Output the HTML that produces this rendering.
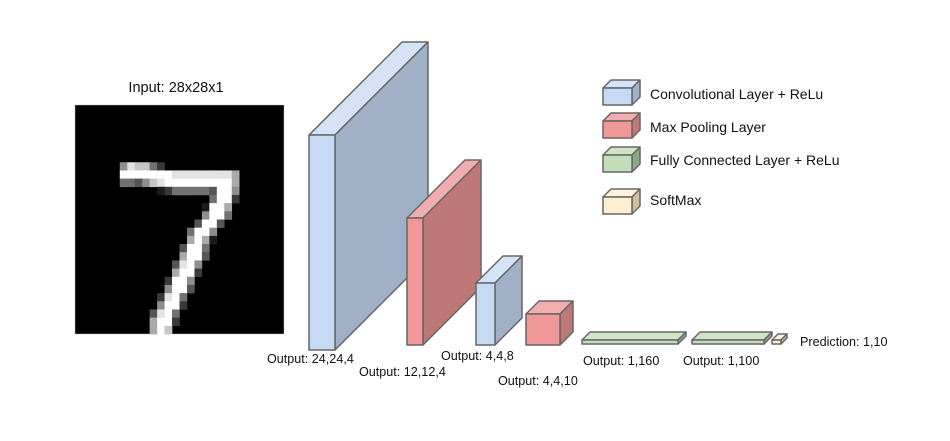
<!DOCTYPE html>
<html><head><meta charset="utf-8"><style>
html,body{margin:0;padding:0;background:#fff;}
svg{display:block;font-family:"Liberation Sans",Arial,sans-serif;}
text{fill:#111;}
</style></head><body>
<svg id="diag" width="950" height="441" viewBox="0 0 950 441">
<text x="176" y="92" font-size="14.5" text-anchor="middle">Input: 28x28x1</text>
<g id="digit"><rect x="75" y="105" width="209" height="229" fill="#000" stroke="#bbb" stroke-width="0.5"/></g>
<g id="layers"></g>
<g id="legend"></g>
<text x="267" y="363" font-size="12.6">Output: 24,24,4</text>
<text x="359" y="376" font-size="12.6">Output: 12,12,4</text>
<text x="441" y="360" font-size="12.6">Output: 4,4,8</text>
<text x="498" y="385" font-size="12.6">Output: 4,4,10</text>
<text x="583" y="365" font-size="12.6">Output: 1,160</text>
<text x="683" y="365" font-size="12.6">Output: 1,100</text>
<text x="800" y="346" font-size="12.6">Prediction: 1,10</text>
</svg>
<script>
const NS="http://www.w3.org/2000/svg";
const rows=[[7,6,"587742"],[8,6,"9999999888888886"],[9,6,"4435789999999996"],[10,11,"12444443995"],
[11,18,"4992"],[12,17,"1996"],[13,17,"5994"],[14,16,"3993"],[15,15,"4995"],[16,15,"6961"],[17,14,"3994"],
[18,14,"6993"],[19,13,"3895"],[20,13,"6992"],[21,12,"2995"],[22,12,"5993"],[23,11,"2894"],[24,11,"5992"],
[25,10,"3894"],[26,10,"6992"],[27,10,"697"]];
const dg=document.getElementById('digit');
const cw=209/28,ch=229/28;
rows.forEach(([r,c0,s])=>{for(let i=0;i<s.length;i++){const v=+s[i];if(!v)continue;
const g=Math.round(v/9*255);const e=document.createElementNS(NS,'rect');
e.setAttribute('x',75+(c0+i)*cw);e.setAttribute('y',105+r*ch);e.setAttribute('width',cw+0.3);e.setAttribute('height',ch+0.3);
e.setAttribute('fill',`rgb(${g},${g},${g})`);


dg.appendChild(e);}});
const C={conv:["#c6daf4","#d4e3f7","#9fb0c7"],pool:["#f09898","#f2aeae","#bf7878"],fc:["#c2ddb8","#cfe5c6","#8fa884"],sm:["#fdf0d0","#fef4dc","#cfc0a0"]};
function cube(par,name,x,y,w,h,d,col){
const g=document.createElementNS(NS,'g');


const P=(pts,f)=>{const p=document.createElementNS(NS,'polygon');p.setAttribute('points',pts);p.setAttribute('fill',f);p.setAttribute('stroke','#666');p.setAttribute('stroke-width','1.5');p.setAttribute('stroke-linejoin','round');g.appendChild(p);};
P(`${x},${y} ${x+d},${y-d} ${x+w+d},${y-d} ${x+w},${y}`,col[1]);
P(`${x+w},${y} ${x+w+d},${y-d} ${x+w+d},${y+h-d} ${x+w},${y+h}`,col[2]);
P(`${x},${y} ${x+w},${y} ${x+w},${y+h} ${x},${y+h}`,col[0]);
par.appendChild(g);}
const L=document.getElementById('layers');
cube(L,'conv1-layer',309,135,26,215,93,C.conv);
cube(L,'pool1-layer',407,218,16,127,58,C.pool);
cube(L,'conv2-layer',476,283,19,62,27,C.conv);
cube(L,'pool2-layer',526,314,34,31,13,C.pool);
cube(L,'fc1-layer',582,340,96,4,8,C.fc);
cube(L,'fc2-layer',692,340,72,4,8,C.fc);
cube(L,'softmax-layer',772,340,9,4,6,C.sm);
const G=document.getElementById('legend');
const items=[["Convolutional Layer + ReLu",C.conv,88,99],["Max Pooling Layer",C.pool,121,132],["Fully Connected Layer + ReLu",C.fc,155,165],["SoftMax",C.sm,197,205]];
items.forEach(([t,col,y,ty])=>{cube(G,'legend-swatch',603,y,29,17,8,col);
const e=document.createElementNS(NS,'text');e.setAttribute('x',650);e.setAttribute('y',ty);e.setAttribute('font-size','14');e.textContent=t;


G.appendChild(e);});
</script>
</body></html>
